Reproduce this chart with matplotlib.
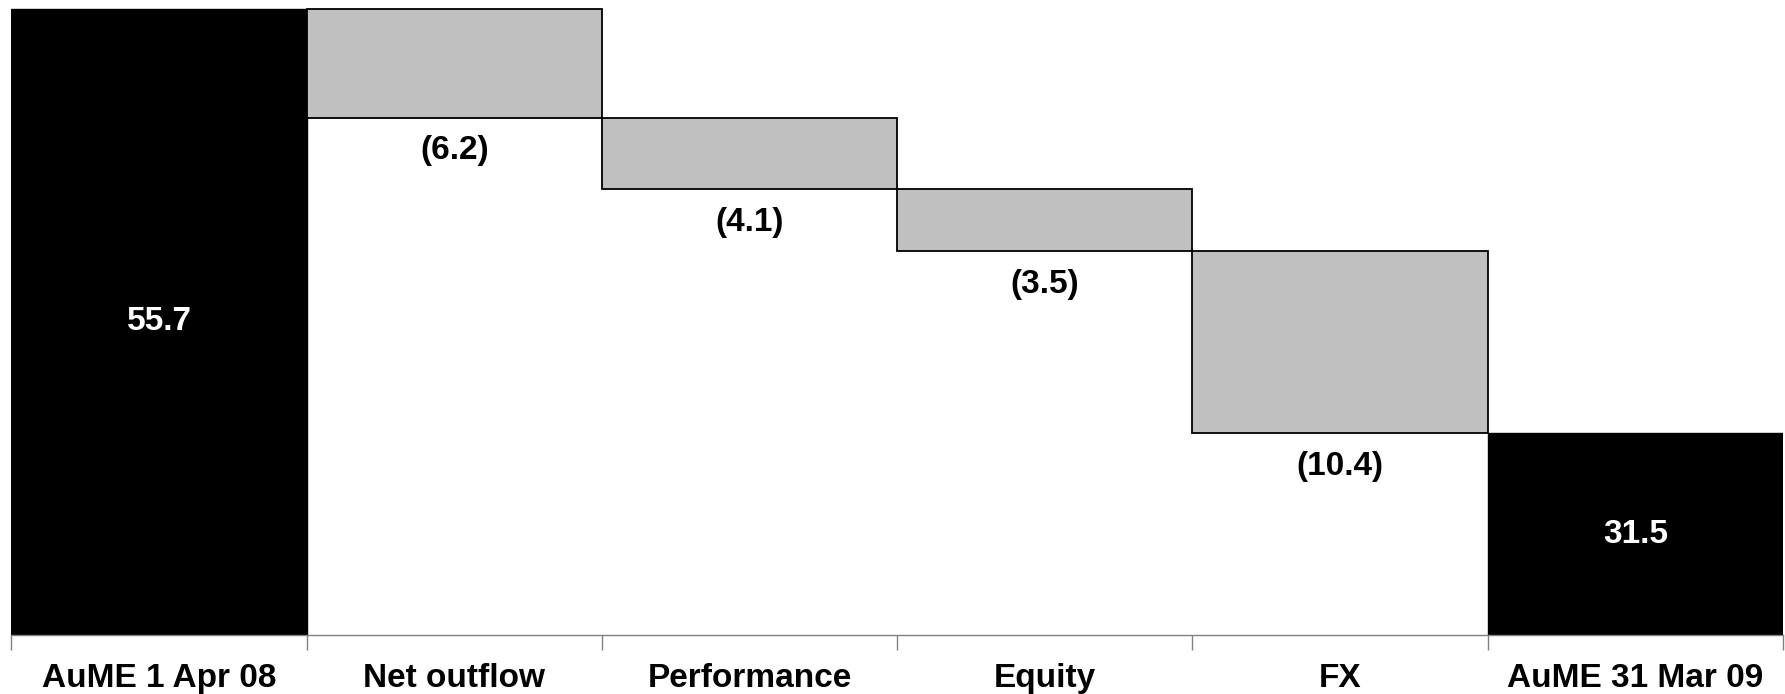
import matplotlib
matplotlib.use("Agg")
import matplotlib.pyplot as plt

# Waterfall data
categories = ["AuME 1 Apr 08", "Net outflow", "Performance", "Equity", "FX", "AuME 31 Mar 09"]
start_value = 55.7
changes = [-6.2, -4.1, -3.5, -10.4]
end_value = 31.5

plt.rcParams['font.family'] = ['Liberation Sans', 'DejaVu Sans']

fig = plt.figure(figsize=(17.85, 6.94), dpi=100)
ax = fig.add_axes([0.0064, 0.085, 0.9925, 0.915])
ymin, ymax = 20, 56.2

x = range(len(categories))

# totals
ax.bar(0, start_value, width=1.0, color="black", edgecolor="black", linewidth=1)
ax.bar(len(categories) - 1, end_value, width=1.0, color="black", edgecolor="black", linewidth=1)

# floating steps
level = start_value
for i, c in enumerate(changes, start=1):
    bottom = level + c
    ax.bar(i, -c, bottom=bottom, width=1.0, color="#c0c0c0", edgecolor="black", linewidth=1.3)
    ax.annotate("({:.1f})".format(-c), xy=(i, bottom), xytext=(0, -24), textcoords="offset points",
                ha="center", va="center", fontsize=24, fontweight="bold")
    level = bottom

for i, v in [(0, start_value), (len(categories) - 1, end_value)]:
    ax.text(i, (ymin + v) / 2, "{:.1f}".format(v), ha="center", va="center",
            color="white", fontsize=24, fontweight="bold")

ax.set_xlim(-0.5, len(categories) - 0.5)
ax.set_ylim(ymin, ymax)
ax.set_yticks([])
ax.set_xticks([i - 0.5 for i in range(len(categories) + 1)], minor=False)
ax.set_xticklabels([])
ax.set_xticks(list(x), minor=True)
ax.set_xticklabels(categories, minor=True, fontsize=24, fontweight="bold")
ax.tick_params(axis="x", which="major", length=11, color="#808080", width=1)
ax.tick_params(axis="x", which="minor", length=0, pad=20)

for s in ["top", "left", "right"]:
    ax.spines[s].set_visible(False)
ax.spines["bottom"].set_color("#808080")
ax.spines["bottom"].set_linewidth(1)

fig.savefig("out.png", dpi=100)
